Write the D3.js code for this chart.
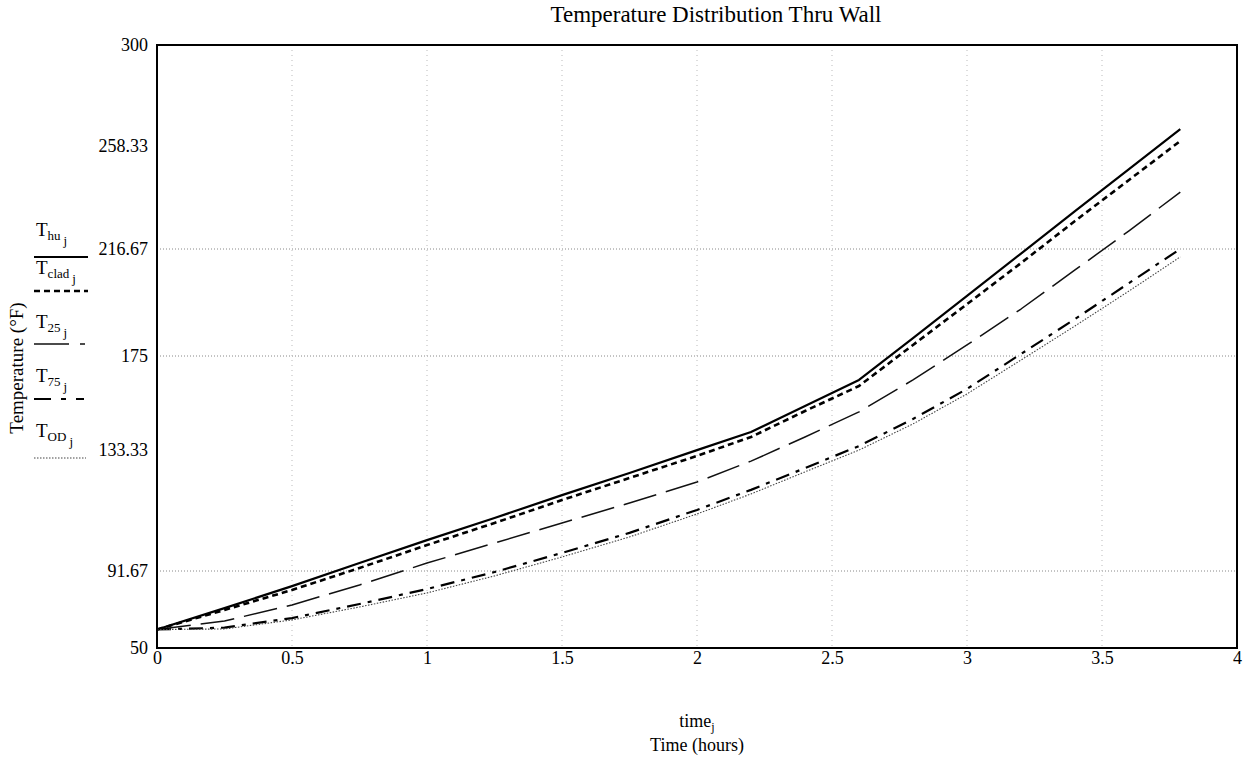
<!DOCTYPE html>
<html>
<head>
<meta charset="utf-8">
<script src="https://cdn.jsdelivr.net/npm/d3@7"></script>
<style>
  html, body { margin: 0; padding: 0; background: #fff; }
  svg text { font-family: "Liberation Serif", "DejaVu Serif", serif; fill: #000; }
</style>
</head>
<body>
<svg id="chart" width="1244" height="769"></svg>
<script>
// ---- data ----
const time   = [0, 0.25, 0.5, 0.75, 1, 1.25, 1.5, 1.75, 2, 2.2, 2.4, 2.6, 2.8, 3, 3.2, 3.4, 3.6, 3.79];
const T_hu   = [60, 71.6, 83.5, 94.4, 102.3, 109.9, 117.8, 125.4, 133.3, 141.3, 152.8, 164.4, 182.0, 198.4, 214.9, 232.0, 249.0, 265.3];
const T_clad = [60, 70.6, 81.4, 92.7, 100.6, 108.2, 116.1, 123.7, 131.3, 139.1, 150.6, 161.7, 179.3, 195.2, 211.2, 228.0, 244.6, 260.4];
const T_25   = [60, 64.6, 73.3, 84.1, 94.4, 101.3, 108.2, 115.1, 122.3, 129.5, 139.1, 150.2, 164.4, 179.3, 193.3, 208.5, 224.0, 239.7];
const T_75   = [60, 61.0, 66.2, 73.8, 81.9, 91.1, 97.9, 104.8, 112.7, 119.6, 127.1, 135.1, 147.1, 160.4, 175.8, 189.4, 203.4, 216.7];
const T_OD   = [60, 60.3, 65.2, 72.2, 79.8, 89.0, 96.5, 103.4, 111.3, 118.2, 125.8, 133.3, 144.9, 158.2, 173.2, 186.7, 200.3, 213.6];

const xTicks = [0, 0.5, 1, 1.5, 2, 2.5, 3, 3.5, 4];
const xTickLabels = ["0", "0.5", "1", "1.5", "2", "2.5", "3", "3.5", "4"];
const yTicks = [50, 91.67, 133.33, 175, 216.67, 258.33, 300];
const yTickLabels = ["50", "91.67", "133.33", "175", "216.67", "258.33", "300"];
const yGridTicks = [91.67, 175, 216.67];

const seriesNames = ["hu", "clad", "25", "75", "OD"];
const seriesValues = [T_hu, T_clad, T_25, T_75, T_OD];

// ---- styles ----
const styles = [
  { stroke: "#000", width: 2.2, dash: null },
  { stroke: "#000", width: 2.6, dash: "6,4" },
  { stroke: "#111", width: 1.5, dash: "34,10" },
  { stroke: "#000", width: 2.2, dash: "14,7,4,7" },
  { stroke: "#444", width: 1.1, dash: "1.5,1.5" }
];
const legendDash = [null, "6,4", "35,11,5,20", "17,10,5,10,8,20", "1.5,1.5"];

const svg = d3.select("#chart");
const pLeft = 157, pRight = 1237, pTop = 45, pBottom = 648;

const x = d3.scaleLinear().domain([0, 4]).range([pLeft, pRight]);
// the plotted axis of the scanned original is not evenly spaced: follow its tick positions
const y = d3.scaleLinear().domain(yTicks).range([pBottom, 571, 450, 356, 249, 146, pTop]);

// grid
const grid = svg.append("g");
grid.selectAll("line.hg").data(yGridTicks).enter().append("line")
  .attr("x1", pLeft).attr("x2", pRight)
  .attr("y1", d => y(d)).attr("y2", d => y(d))
  .attr("stroke", "#888").attr("stroke-width", 1).attr("stroke-dasharray", "1,2");
grid.selectAll("line.vg").data(xTicks.slice(1, -1)).enter().append("line")
  .attr("y1", pTop).attr("y2", pBottom)
  .attr("x1", d => x(d)).attr("x2", d => x(d))
  .attr("stroke", "#bbb").attr("stroke-width", 1).attr("stroke-dasharray", "1,4");

// axes (labels only, Mathcad style)
const xAxis = d3.axisBottom(x).tickValues(xTicks).tickSize(0).tickPadding(3)
  .tickFormat((d, i) => xTickLabels[i]);
const gx = svg.append("g").attr("transform", `translate(0,${pBottom})`).call(xAxis);
gx.select(".domain").remove();
gx.selectAll("text").style("font-family", "Liberation Serif").style("font-size", "18px");

const yAxis = d3.axisLeft(y).tickValues(yTicks).tickSize(0).tickPadding(9)
  .tickFormat((d, i) => yTickLabels[i]);
const gy = svg.append("g").attr("transform", `translate(${pLeft},0)`).call(yAxis);
gy.select(".domain").remove();
gy.selectAll("text").style("font-family", "Liberation Serif").style("font-size", "18px");

// lines
const line = d3.line().x((d, i) => x(time[i])).y(d => y(d));
seriesValues.forEach((vals, k) => {
  svg.append("path").datum(vals)
    .attr("d", line)
    .attr("fill", "none")
    .attr("stroke", styles[k].stroke)
    .attr("stroke-width", styles[k].width)
    .attr("stroke-dasharray", styles[k].dash)
    .attr("stroke-linejoin", "round");
});

// frame
svg.append("rect").attr("x", pLeft).attr("y", pTop)
  .attr("width", pRight - pLeft).attr("height", pBottom - pTop)
  .attr("fill", "none").attr("stroke", "#000").attr("stroke-width", 2);

// title
svg.append("text").attr("x", 716).attr("y", 22).attr("text-anchor", "middle")
  .style("font-size", "23px").text("Temperature Distribution Thru Wall");

// x axis titles
const xt = svg.append("text").attr("x", 697).attr("y", 727).attr("text-anchor", "middle")
  .style("font-size", "18px");
xt.append("tspan").text("time");
xt.append("tspan").attr("dy", 4).style("font-size", "12px").text("j");
svg.append("text").attr("x", 697).attr("y", 751).attr("text-anchor", "middle")
  .style("font-size", "18px").text("Time (hours)");

// y axis title
svg.append("text").attr("transform", "translate(23,368) rotate(-90)")
  .attr("text-anchor", "middle").style("font-size", "19px").text("Temperature (°F)");

// legend
const legTop = [236, 274, 328, 382, 437];
const legLine = [257, 291, 344, 399, 458];
const legendLineEnd = [88, 88, 85, 85, 86];
seriesNames.forEach((nm, k) => {
  const t = svg.append("text").attr("x", 36).attr("y", legTop[k]).style("font-size", "19px");
  t.append("tspan").text("T");
  t.append("tspan").attr("dy", 4).style("font-size", "13px").text(nm);
  t.append("tspan").attr("dy", 5).attr("dx", 3).style("font-size", "13px").text("j");
  svg.append("line").attr("x1", 34).attr("x2", legendLineEnd[k])
    .attr("y1", legLine[k]).attr("y2", legLine[k])
    .attr("stroke", styles[k].stroke)
    .attr("stroke-width", styles[k].width)
    .attr("stroke-dasharray", legendDash[k]);
});
</script>
</body>
</html>
